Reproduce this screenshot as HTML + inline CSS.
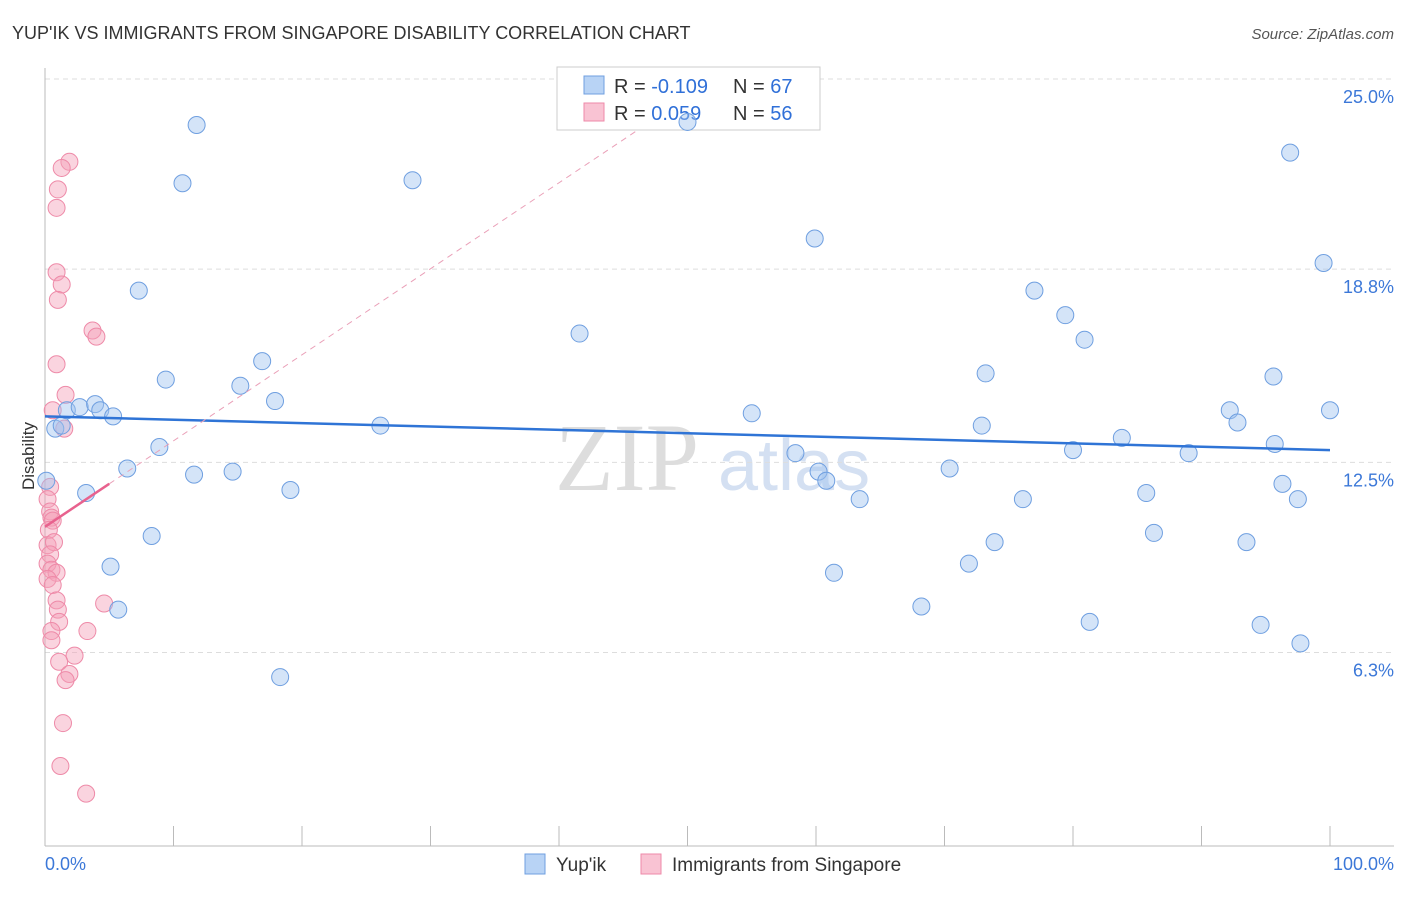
<!DOCTYPE html>
<html><head><meta charset="utf-8"><style>
body{margin:0;background:#fff;font-family:"Liberation Sans",sans-serif}
</style></head><body>
<svg id="chart" width="1406" height="892" xmlns="http://www.w3.org/2000/svg" font-family="Liberation Sans, sans-serif">
<text x="12" y="39" font-size="18" fill="#333">YUP'IK VS IMMIGRANTS FROM SINGAPORE DISABILITY CORRELATION CHART</text>
<text x="1394" y="39" font-size="15" fill="#555" text-anchor="end" font-style="italic">Source: ZipAtlas.com</text>
<text x="555" y="490" font-size="96" fill="#ddd" font-family="Liberation Serif, serif">ZIP</text>
<text x="718" y="490" font-size="72" fill="#d4e0f2">atlas</text>
<g id="grid"></g>
<g>
<rect x="557" y="67" width="263" height="63" fill="#fff" stroke="#ccc"/>
<rect x="584" y="76" width="20" height="18" fill="#b8d3f5" stroke="#6f9fe0"/>
<rect x="584" y="103" width="20" height="18" fill="#f9c3d3" stroke="#ee8aa8"/>
<text x="614" y="93" font-size="20" fill="#333">R = <tspan fill="#3070d8">-0.109</tspan></text>
<text x="733" y="93" font-size="20" fill="#333">N = <tspan fill="#3070d8">67</tspan></text>
<text x="614" y="120" font-size="20" fill="#333">R = <tspan fill="#3070d8"> 0.059</tspan></text>
<text x="733" y="120" font-size="20" fill="#333">N = <tspan fill="#3070d8">56</tspan></text>
</g>
<g id="pts"></g><g id="lines"></g>
<text transform="translate(34,456) rotate(-90)" font-size="17" fill="#333" text-anchor="middle">Disability</text>
<g>
<rect x="525" y="854" width="20" height="20" fill="#b8d3f5" stroke="#6f9fe0"/>
<text x="556" y="871" font-size="19" fill="#333">Yup'ik</text>
<rect x="641" y="854" width="20" height="20" fill="#f9c3d3" stroke="#ee8aa8"/>
<text x="672" y="871" font-size="19" fill="#333">Immigrants from Singapore</text>
</g>
</svg>
<script>
const yTicks=[25.0,18.8,12.5,6.3];
const yTickLabels=["25.0%","18.8%","12.5%","6.3%"];
const xLabels=["0.0%","100.0%"];
const blueX=[11.8,10.7,28.6,7.3,9.4,15.2,16.9,17.9,8.9,11.6,14.6,6.4,19.1,8.3,5.1,5.7,18.3,26.1,41.6,50.0,59.9,55.0,58.4,60.2,60.8,63.4,61.4,68.2,70.4,71.9,73.9,72.9,73.2,76.1,77.0,79.4,80.9,80.0,81.3,83.8,85.7,86.3,89.0,92.2,92.8,93.5,94.6,95.6,95.7,96.3,96.9,97.5,97.7,99.5,100,0.8,1.3,1.7,2.7,3.9,4.3,5.3,3.2,0.1];
const blueY=[23.5,21.6,21.7,18.1,15.2,15.0,15.8,14.5,13.0,12.1,12.2,12.3,11.6,10.1,9.1,7.7,5.5,13.7,16.7,23.6,19.8,14.1,12.8,12.2,11.9,11.3,8.9,7.8,12.3,9.2,9.9,13.7,15.4,11.3,18.1,17.3,16.5,12.9,7.3,13.3,11.5,10.2,12.8,14.2,13.8,9.9,7.2,15.3,13.1,11.8,22.6,11.3,6.6,19.0,14.2,13.6,13.7,14.2,14.3,14.4,14.2,14.0,11.5,11.9];
const pinkX=[1.9,1.3,1.0,0.9,0.9,1.3,1.0,3.7,4.0,0.9,1.6,0.6,1.5,0.4,0.2,0.4,0.5,0.6,0.3,0.2,0.7,0.4,0.2,0.5,0.9,0.2,0.6,4.6,0.9,1.0,1.1,3.3,0.5,0.5,2.3,1.1,1.9,1.6,1.4,1.2,3.2];
const pinkY=[22.3,22.1,21.4,20.8,18.7,18.3,17.8,16.8,16.6,15.7,14.7,14.2,13.6,11.7,11.3,10.9,10.7,10.6,10.3,9.8,9.9,9.5,9.2,9.0,8.9,8.7,8.5,7.9,8.0,7.7,7.3,7.0,7.0,6.7,6.2,6.0,5.6,5.4,4.0,2.6,1.7];
const blueTrend=[14.0,12.9];
const pinkTrend=[10.4,11.8,23.3];
const pinkTrendX=[0,5,46];
const X=v=>45+v*12.85, Y=v=>79+(25-v)*30.67;
const NS="http://www.w3.org/2000/svg";
function mk(t,a,p){const e=document.createElementNS(NS,t);for(const k in a)e.setAttribute(k,a[k]);p.appendChild(e);return e;}
const g=document.getElementById('grid');
yTicks.forEach((t,i)=>{
 const l=mk('line',{x1:45,x2:1394,y1:Y(t),y2:Y(t),stroke:'#ddd','stroke-dasharray':'5,4'},g);
 
 
 const tx=mk('text',{x:1394,y:Y(t)+24,'font-size':18,fill:'#3c78d8','text-anchor':'end'},g);tx.textContent=yTickLabels[i];
 
 
});
const ax=mk('line',{x1:45,x2:45,y1:68,y2:846,stroke:'#bbb'},g);


const bx=mk('line',{x1:45,x2:1394,y1:846,y2:846,stroke:'#bbb'},g);


for(let i=1;i<=10;i++){const t=mk('line',{x1:X(i*10),x2:X(i*10),y1:826,y2:846,stroke:'#bbb'},g);
 
 }
[[0,'start'],[100,'end']].forEach((d,i)=>{const t=mk('text',{x:i?1394:45,y:870,'font-size':18,fill:'#3c78d8','text-anchor':d[1]},g);t.textContent=xLabels[i];
 
 });
const p=document.getElementById('pts');
pinkX.forEach((x,i)=>{const c=mk('circle',{cx:X(x),cy:Y(pinkY[i]),r:8.5,fill:'rgba(244,160,185,0.45)',stroke:'#ee8aa8','stroke-width':1},p);
 
 });
blueX.forEach((x,i)=>{const c=mk('circle',{cx:X(x),cy:Y(blueY[i]),r:8.5,fill:'rgba(160,195,240,0.45)',stroke:'#6f9fe0','stroke-width':1},p);
 
 });
const L=document.getElementById('lines');
const bl=mk('line',{x1:X(0),y1:Y(blueTrend[0]),x2:X(100),y2:Y(blueTrend[1]),stroke:'#2f74d6','stroke-width':2.5},L);


const pd=mk('line',{x1:X(pinkTrendX[1]),y1:Y(pinkTrend[1]),x2:X(pinkTrendX[2]),y2:Y(pinkTrend[2]),stroke:'#eaa0b8','stroke-width':1,'stroke-dasharray':'6,5'},L);


const pl=mk('line',{x1:X(pinkTrendX[0]),y1:Y(pinkTrend[0]),x2:X(pinkTrendX[1]),y2:Y(pinkTrend[1]),stroke:'#e8628e','stroke-width':2.5},L);


</script>
</body></html>
